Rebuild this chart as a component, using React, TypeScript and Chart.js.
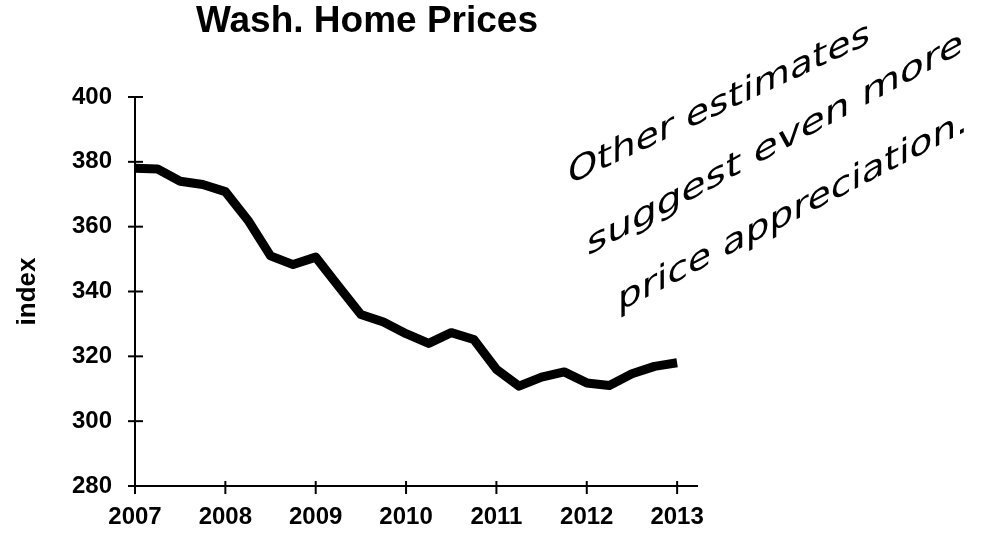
import React, { useEffect, useRef } from "react";
import { Chart, registerables } from "chart.js";

Chart.register(...registerables);

// ---- data ----
const quarters = [
  2007, 2007.25, 2007.5, 2007.75,
  2008, 2008.25, 2008.5, 2008.75,
  2009, 2009.25, 2009.5, 2009.75,
  2010, 2010.25, 2010.5, 2010.75,
  2011, 2011.25, 2011.5, 2011.75,
  2012, 2012.25, 2012.5, 2012.75,
  2013,
];
const priceIndex = [
  378, 377.8, 374, 373,
  370.8, 362, 351, 348.3,
  350.6, 341.7, 332.9, 330.6,
  327, 324, 327.3, 325.2,
  316, 310.8, 313.6, 315.2,
  311.8, 311, 314.6, 316.9,
  318,
];
const yearTicks = [2007, 2008, 2009, 2010, 2011, 2012, 2013];
const yTickValues = [280, 300, 320, 340, 360, 380, 400];
const chartTitle = "Wash. Home Prices";
const yAxisTitle = "index";
const noteLines = ["Other estimates", "suggest even more", "price appreciation."];

const FONT = '"Liberation Sans", Arial, Helvetica, sans-serif';

export default function App() {
  const canvasRef = useRef<HTMLCanvasElement | null>(null);

  useEffect(() => {
    const canvas = canvasRef.current;
    if (!canvas) return;

    const titlePlugin = {
      id: "customTitle",
      afterDraw(chart: any) {
        const ctx = chart.ctx;
        ctx.save();
        ctx.font = `bold 37px ${FONT}`;
        ctx.fillStyle = "#000";
        ctx.textAlign = "center";
        ctx.textBaseline = "alphabetic";
        ctx.fillText(chartTitle, 367, 32);
        ctx.restore();
      },
    };

    const crossTicksPlugin = {
      id: "crossTicks",
      beforeDatasetsDraw(chart: any) {
        const { ctx, chartArea, scales } = chart;
        const x = scales.x;
        const y = scales.y;
        ctx.save();
        ctx.strokeStyle = "#000";
        ctx.lineWidth = 2;
        y.ticks.forEach((t: any) => {
          const py = y.getPixelForValue(t.value);
          ctx.beginPath();
          ctx.moveTo(chartArea.left - 7, py);
          ctx.lineTo(chartArea.left + 8, py);
          ctx.stroke();
        });
        x.ticks.forEach((t: any) => {
          const px = x.getPixelForValue(t.value);
          ctx.beginPath();
          ctx.moveTo(px, chartArea.bottom - 5);
          ctx.lineTo(px, chartArea.bottom + 8);
          ctx.stroke();
        });
        ctx.restore();
      },
    };

    const notePlacements = [
      { x: 568, y: 185, ex: 870, ey: 43 },
      { x: 587, y: 256, ex: 963, ey: 52 },
      { x: 618, y: 312, ex: 968, ey: 130 },
    ];

    const notePlugin = {
      id: "handNote",
      afterDraw(chart: any) {
        const ctx = chart.ctx;
        ctx.save();
        ctx.fillStyle = "#000";
        ctx.font = `30px "DejaVu Sans", sans-serif`;
        ctx.textAlign = "left";
        ctx.textBaseline = "alphabetic";
        noteLines.forEach((line, i) => {
          const p = notePlacements[i];
          const dx = p.ex - p.x;
          const dy = p.ey - p.y;
          const len = Math.sqrt(dx * dx + dy * dy);
          const c = dx / len;
          const s = dy / len;
          const w = ctx.measureText(line).width;
          const k = len / w;
          ctx.save();
          // baseline follows the slanted direction; letters stay upright on the page
          ctx.setTransform(c * k, s * k, 0, 1.15, p.x, p.y);
          ctx.fillText(line, 0, 0);
          ctx.restore();
        });
        ctx.restore();
      },
    };

    const chart = new Chart(canvas, {
      type: "line",
      data: {
        datasets: [
          {
            data: quarters.map((q, i) => ({ x: q, y: priceIndex[i] })),
            borderColor: "#000",
            borderWidth: 9,
            pointRadius: 0,
            tension: 0,
            fill: false,
            borderJoinStyle: "round",
            borderCapStyle: "butt",
            clip: false,
          } as any,
        ],
      },
      options: {
        responsive: false,
        animation: false,
        layout: { padding: { top: 97, right: 286, bottom: 0, left: 0 } },
        plugins: {
          legend: { display: false },
          tooltip: { enabled: false },
          title: { display: false },
        },
        scales: {
          x: {
            type: "linear",
            min: 2007,
            max: 2013.22,
            afterBuildTicks: (scale: any) => {
              scale.ticks = yearTicks.map((v) => ({ value: v }));
            },
            afterFit: (scale: any) => {
              scale.height = 47;
            },
            grid: { display: false, drawTicks: true, tickLength: 7 },
            border: { display: true, color: "#000", width: 2 },
            ticks: {
              color: "#000",
              padding: 10,
              maxRotation: 0,
              autoSkip: false,
              font: { family: FONT, size: 24, weight: "bold" },
              callback: (v: any) => String(v),
            },
          },
          y: {
            type: "linear",
            min: 280,
            max: 400,
            afterBuildTicks: (scale: any) => {
              scale.ticks = yTickValues.map((v) => ({ value: v }));
            },
            afterFit: (scale: any) => {
              scale.width = 135;
            },
            grid: { display: false, drawTicks: true, tickLength: 7 },
            border: { display: true, color: "#000", width: 2 },
            title: {
              display: true,
              text: yAxisTitle,
              color: "#000",
              padding: { top: 12, bottom: 0 },
              font: { family: FONT, size: 26, weight: "bold" },
            },
            ticks: {
              color: "#000",
              padding: 16,
              font: { family: FONT, size: 24, weight: "bold" },
              callback: (v: any) => String(v),
            },
          },
        },
      },
      plugins: [crossTicksPlugin, titlePlugin, notePlugin],
    });

    return () => chart.destroy();
  }, []);

  return (
    <canvas
      ref={canvasRef}
      width={983}
      height={533}
      style={{ position: "fixed", left: 0, top: 0, display: "block", width: 983, height: 533, background: "#fff" }}
    />
  );
}
